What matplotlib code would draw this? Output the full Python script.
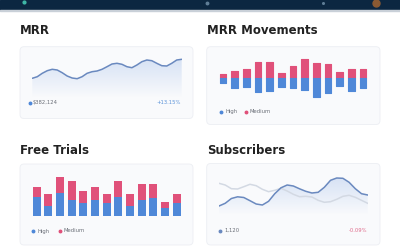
import matplotlib
matplotlib.use("Agg")
import matplotlib.pyplot as plt
import numpy as np
from matplotlib.patches import FancyBboxPatch, Rectangle

# ---- data ----
mrr_values = [19.7, 21.3, 24.7, 27.3, 28.7, 28.0, 25.3, 22.0, 20.0, 19.3, 21.3,
              24.7, 26.3, 27.0, 28.7, 31.3, 34.0, 34.7, 33.7, 31.3, 30.3, 33.0,
              36.3, 38.0, 37.3, 34.7, 32.3, 32.0, 34.7, 38.0, 38.7]
mrr_total = "$382,124"
mrr_change = "+13.15%"

move_medium = [4.3, 7.3, 9.3, 16.0, 16.0, 5.7, 12.7, 19.0, 15.0, 14.3, 6.3, 9.7, 9.3]
move_high = [5.0, 10.0, 8.3, 14.0, 12.3, 8.3, 9.3, 11.7, 19.0, 14.3, 7.3, 12.3, 9.3]

trial_high = [19.0, 9.7, 23.0, 15.7, 12.3, 15.7, 12.3, 18.7, 9.7, 15.7, 17.3, 8.0, 12.3]
trial_medium = [9.3, 12.3, 15.3, 19.3, 12.7, 12.7, 9.7, 16.3, 12.3, 16.0, 14.3, 6.0, 9.7]

subs_current = [9.0, 11.7, 16.5, 18.2, 17.5, 14.3, 11.0, 10.0, 13.7, 21.3, 27.2, 30.0,
                29.0, 26.2, 23.7, 22.0, 22.7, 27.7, 34.7, 37.0, 36.7, 32.7, 26.3, 21.3, 20.0]
subs_previous = [31.7, 30.0, 26.3, 26.0, 28.3, 30.7, 29.3, 25.7, 23.3, 24.7, 26.7, 24.0,
                 20.7, 18.3, 18.7, 18.0, 14.7, 12.7, 13.3, 15.7, 18.7, 19.7, 17.7, 14.7, 11.7]
subs_total = "1,120"
subs_change = "-0.09%"

BLUE = "#4f88d8"
PINK = "#e0517a"
LINE = "#6a89bf"
TEXT = "#222222"
MUTED = "#6b6f78"

W, H = 400, 250
fig = plt.figure(figsize=(4, 2.5), dpi=100)
fig.patch.set_facecolor("white")

# background axes in pixel coordinates
bg = fig.add_axes([0, 0, 1, 1])
bg.set_xlim(0, W)
bg.set_ylim(H, 0)
bg.axis("off")


def px_axes(x0, y0, x1, y1):
    ax = fig.add_axes([x0 / W, 1 - y1 / H, (x1 - x0) / W, (y1 - y0) / H])
    ax.axis("off")
    ax.patch.set_alpha(0)
    return ax


# header bar
bg.add_patch(Rectangle((0, 0), W, 9.5, color="#0c2741", zorder=1))
bg.add_patch(Rectangle((0, 9.5), W, 1.0, color="#c9d0d8", zorder=1))
bg.plot([24], [2], "o", ms=2, color="#3fb8a8", zorder=2)
bg.plot([207], [3], "o", ms=1.8, color="#5f7d96", zorder=2)
bg.plot([323], [2.5], "o", ms=1.2, color="#5f7d96", zorder=2)
bg.plot([376], [2.5], "o", ms=5, color="#8a5a33", zorder=2)

# cards
cards = [(20, 46.7, 193, 118.5), (206.7, 46.7, 380, 124.5),
         (20, 164, 193, 245), (206.7, 163.5, 380, 245)]
for x0, y0, x1, y1 in cards:
    bg.add_patch(FancyBboxPatch((x0, y0), x1 - x0, y1 - y0,
                                boxstyle="round,pad=0,rounding_size=4",
                                fc="#f9fafc", ec="#eceef3", lw=0.6, zorder=1))

# titles
for txt, x, y in [("MRR", 20, 31), ("MRR Movements", 207, 31),
                  ("Free Trials", 20, 150), ("Subscribers", 207, 150)]:
    bg.text(x, y, txt, fontsize=8.5, fontweight="bold", color=TEXT,
            ha="left", va="center")


def gradient_fill(ax, x, y, ymin, color):
    poly = ax.fill_between(x, y, ymin, color="none", lw=0)
    grad = np.linspace(0.32, 0.0, 100).reshape(-1, 1)
    rgba = np.zeros((100, 1, 4))
    rgba[..., :3] = matplotlib.colors.to_rgb(color)
    rgba[..., 3] = grad
    im = ax.imshow(rgba, aspect="auto", origin="upper",
                   extent=[x[0], x[-1], ymin, max(y)], zorder=1)
    im.set_clip_path(poly.get_paths()[0], transform=ax.transData)


# MRR line
ax1 = px_axes(32.3, 55, 181.7, 98)
xm = np.arange(len(mrr_values))
ax1.set_xlim(xm[0], xm[-1])
ax1.set_ylim(0, 43)
gradient_fill(ax1, xm, np.array(mrr_values), 0, "#8fb0e6")
ax1.plot(xm, mrr_values, color=LINE, lw=1.1, solid_capstyle="round", zorder=3)

bg.plot([29.5], [102.7], "o", ms=1.8, color=BLUE)
bg.text(33, 102.7, mrr_total, fontsize=3.8, color=MUTED, va="center")
bg.text(181, 102.7, mrr_change, fontsize=3.8, color="#5b93d9", va="center", ha="right")

# MRR Movements diverging bars
ax2 = px_axes(217.2, 55, 368.8, 101)
xb = np.arange(len(move_medium))
ax2.set_xlim(-0.5, len(xb) - 0.5)
ax2.set_ylim(-22.7, 23.3)
ax2.bar(xb, move_medium, width=0.55, color=PINK, ec=PINK, lw=0.8, joinstyle="round")
ax2.bar(xb, [-v for v in move_high], width=0.55, color=BLUE, ec=BLUE, lw=0.8, joinstyle="round")

bg.plot([221], [111.7], "o", ms=1.8, color=BLUE)
bg.text(225, 111.7, "High", fontsize=3.8, color=MUTED, va="center")
bg.plot([246], [111.7], "o", ms=1.8, color=PINK)
bg.text(250, 111.7, "Medium", fontsize=3.8, color=MUTED, va="center")

# Free Trials stacked bars
ax3 = px_axes(30.9, 175, 182.5, 215.7)
xt = np.arange(len(trial_high))
ax3.set_xlim(-0.5, len(xt) - 0.5)
ax3.set_ylim(0, 40.7)
ax3.bar(xt, trial_high, width=0.68, color=BLUE, lw=0)
ax3.bar(xt, trial_medium, bottom=trial_high, width=0.68, color=PINK, lw=0)

bg.plot([33.3], [231], "o", ms=1.8, color=BLUE)
bg.text(38, 231, "High", fontsize=3.8, color=MUTED, va="center")
bg.plot([60], [231], "o", ms=1.8, color=PINK)
bg.text(63.5, 231, "Medium", fontsize=3.8, color=MUTED, va="center")

# Subscribers lines
ax4 = px_axes(219, 170, 367.7, 215)
xs = np.arange(len(subs_current))
ax4.set_xlim(xs[0], xs[-1])
ax4.set_ylim(0, 45)
gradient_fill(ax4, xs, np.array(subs_current), 0, "#8fb0e6")
ax4.plot(xs, subs_previous, color="#d3d9e3", lw=1.1, zorder=2)
ax4.plot(xs, subs_current, color=LINE, lw=1.1, zorder=3)

bg.plot([220], [230.7], "o", ms=1.8, color=LINE)
bg.text(224, 230.7, subs_total, fontsize=3.8, color=MUTED, va="center")
bg.text(367.7, 230.7, subs_change, fontsize=3.8, color="#e06b8b", va="center", ha="right")

fig.savefig("out.png", dpi=100)
